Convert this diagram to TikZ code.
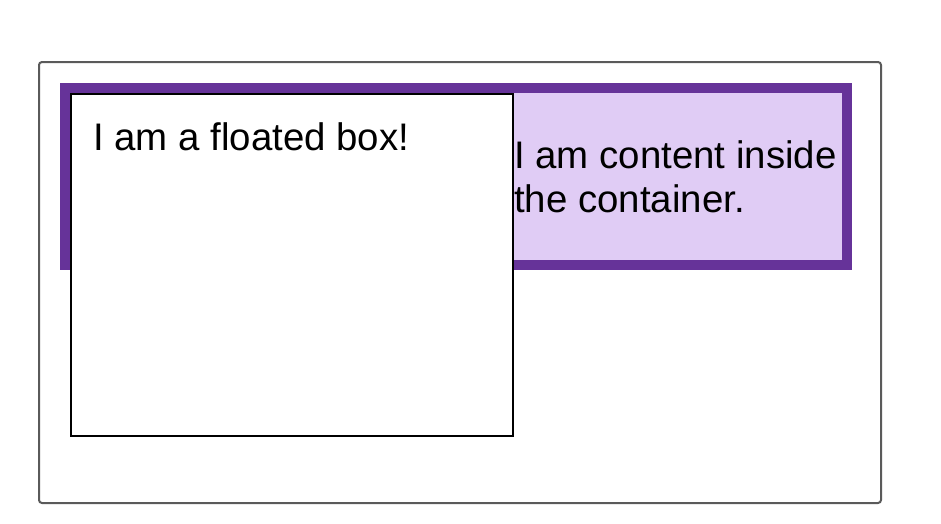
\documentclass[tikz,border=0pt]{standalone}
\usepackage{fontspec}
\setmainfont{Liberation Sans}
\definecolor{rebecca}{HTML}{663399}
\definecolor{boxlavender}{HTML}{E0CCF5}
\definecolor{wrapgrey}{HTML}{5A5A5A}

\begin{document}
\begin{tikzpicture}[x=1pt, y=-1pt,
    boxtext/.style={font=\fontsize{38.4}{44}\selectfont, inner sep=0, anchor=north west, align=left}]
        \useasboundingbox (0,0) rectangle (941,523);

        \node[rectangle, rounded corners=3pt, draw=wrapgrey, line width=2pt, inner sep=0, minimum width=842pt, minimum height=441pt] at (460,282.5) (wrapper) {};
        \node[rectangle, draw=rebecca, fill=boxlavender, line width=10pt, inner sep=0, minimum width=782pt, minimum height=177pt] at (456,176.5) (container) {};
        \node[rectangle, draw=black, fill=white, line width=2pt, inner sep=0, minimum width=442pt, minimum height=342pt] at (292,265) (float) {};

        \node[boxtext] at (93,122) (floattext) {I am a floated box!};
        \node[boxtext] at (514,140) (contenttext) {I am content inside\\the container.};

    \end{tikzpicture}
\end{document}
